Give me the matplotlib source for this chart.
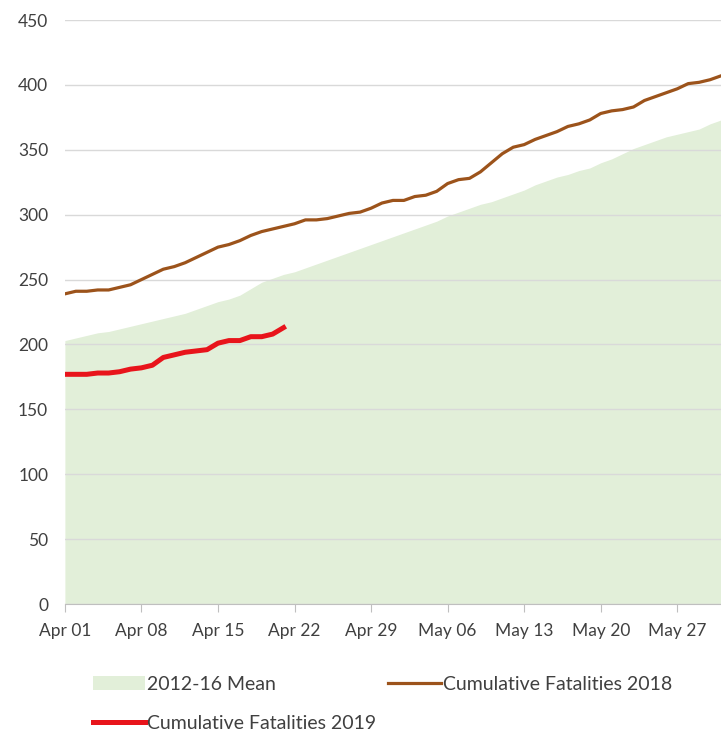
import numpy as np
import pandas as pd
import matplotlib
matplotlib.use("Agg")
from matplotlib import pyplot as plt
import matplotlib.dates as mdates
from matplotlib.patches import Patch
from matplotlib.lines import Line2D

plt.rcParams['font.family'] = ['Lato', 'DejaVu Sans']

days = pd.date_range('2019-04-01', '2019-05-31', freq='D')

mean_2012_16 = [203, 205, 207, 209, 210, 212, 214, 216, 218, 220,
                222, 224, 227, 230, 233, 235, 238, 243, 248, 251,
                254, 256, 259, 262, 265, 268, 271, 274, 277, 280,
                283, 286, 289, 292, 295, 299, 302, 305, 308, 310,
                313, 316, 319, 323, 326, 329, 331, 334, 336, 340,
                343, 347, 351, 354, 357, 360, 362, 364, 366, 370, 373]

fat_2018 = [239, 241, 241, 242, 242, 244, 246, 250, 254, 258,
            260, 263, 267, 271, 275, 277, 280, 284, 287, 289,
            291, 293, 296, 296, 297, 299, 301, 302, 305, 309,
            311, 311, 314, 315, 318, 324, 327, 328, 333, 340,
            347, 352, 354, 358, 361, 364, 368, 370, 373, 378,
            380, 381, 383, 388, 391, 394, 397, 401, 402, 404, 407]

fat_2019 = [177, 177, 177, 178, 178, 179, 181, 182, 184, 190,
            192, 194, 195, 196, 201, 203, 203, 206, 206, 208, 213]

tick_dates = pd.date_range('2019-04-01', periods=9, freq='7D')

green = '#E2EFD9'
brown = '#9C531B'
red = '#E8141B'

fig = plt.figure(figsize=(7.21, 7.31), dpi=100)
ax = fig.add_axes([0.090, 0.1737, 0.910, 0.7989])

ax.fill_between(days, 0, mean_2012_16, color=green, linewidth=0, zorder=1)
ax.plot(days, fat_2018, color=brown, linewidth=2.3, zorder=3)
ax.plot(days[:len(fat_2019)], fat_2019, color=red, linewidth=3.6, zorder=4)

ax.set_xlim(days[0], days[-1])
ax.set_ylim(0, 450)
ax.set_yticks(np.arange(0, 451, 50))
ax.yaxis.grid(True, color='#D9D9D9', linewidth=1)
ax.set_axisbelow(False)
for gl in ax.get_ygridlines():
    gl.set_zorder(2)

ax.set_xticks(tick_dates)
ax.xaxis.set_major_formatter(mdates.DateFormatter('%b %d'))

for s in ['top', 'right', 'left']:
    ax.spines[s].set_visible(False)
ax.spines['bottom'].set_color('#BFBFBF')
ax.spines['bottom'].set_zorder(5)
ax.tick_params(axis='y', length=0, labelsize=12.5, colors='#404040', pad=12)
ax.tick_params(axis='x', length=6, color='#BFBFBF', labelsize=12.5,
               labelcolor='#404040', pad=8, direction='out')

handles = [Patch(facecolor=green, edgecolor='none'),
           Line2D([], [], color=red, linewidth=3.6),
           Line2D([], [], color=brown, linewidth=2.3)]
labels = ['2012-16 Mean', 'Cumulative Fatalities 2019', 'Cumulative Fatalities 2018']
leg = fig.legend(handles, labels, ncol=2, loc='upper left',
                 bbox_to_anchor=(0.118, 0.086), frameon=False,
                 fontsize=14, handlelength=2.7, handletextpad=0.1,
                 columnspacing=0.6, labelspacing=1.15, borderaxespad=0)
for t in leg.get_texts():
    t.set_color('#404040')

fig.savefig('out.png', dpi=100)
